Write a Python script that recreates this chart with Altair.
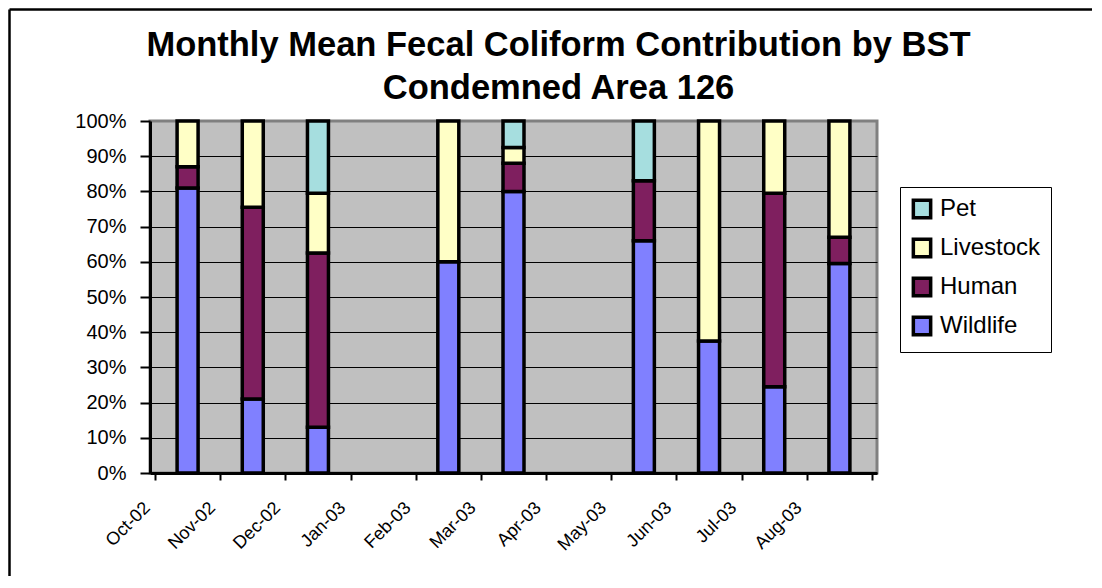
import json
import altair as alt
import pandas as pd

months = ["Oct-02", "Nov-02", "Dec-02", "Jan-03", "Feb-03", "Mar-03",
          "Apr-03", "May-03", "Jun-03", "Jul-03", "Aug-03"]
sources = ["Pet", "Livestock", "Human", "Wildlife"]
colors = ["#A6DEDF", "#FFFFC6", "#7F1F5F", "#8080FF"]

wildlife = [81, 21, 13, None, 60, 80, None, 66, 37.5, 24.5, 59.5]
human = [6, 54.5, 49.5, None, 0, 8, None, 17, 0, 55, 7.5]
livestock = [13, 24.5, 17, None, 40, 4.5, None, 0, 62.5, 20.5, 33]
pet = [0, 0, 20.5, None, 0, 7.5, None, 17, 0, 0, 0]

series = {"Wildlife": wildlife, "Human": human, "Livestock": livestock, "Pet": pet}
stack_order = {"Wildlife": 0, "Human": 1, "Livestock": 2, "Pet": 3}

rows = []
for i, m in enumerate(months):
    for s, vals in series.items():
        v = vals[i]
        if v is not None and v > 0:
            rows.append({"month": m, "pos": i, "source": s, "value": v,
                         "stack": stack_order[s]})
df = pd.DataFrame(rows)

label_expr = "datum.value < %d ? %s[datum.value] : ''" % (len(months), json.dumps(months))

bars = alt.Chart(df).transform_calculate(
    slot="datum.pos + 0.5"
).mark_bar(size=21, stroke="black", strokeWidth=3.5, orient="vertical").encode(
    x=alt.X("slot:Q",
            scale=alt.Scale(domain=[0, len(months)], nice=False, zero=False),
            axis=alt.Axis(values=list(range(len(months) + 1)), labelExpr=label_expr,
                          title=None, grid=False, labelAngle=-45, labelAlign="right",
                          labelBaseline="middle", labelFont="Liberation Sans",
                          labelFontSize=18, labelColor="black", labelPadding=25,
                          labelOffset=-8,
                          labelFlush=False, labelOverlap=False, labelBound=False,
                          domainColor="black", domainWidth=3, tickColor="black",
                          tickWidth=2, tickSize=7)),
    y=alt.Y("value:Q", stack="normalize",
            scale=alt.Scale(domain=[0, 1], nice=False),
            axis=alt.Axis(format="%", values=[i / 10 for i in range(11)], title=None,
                          labelFont="Liberation Sans", labelFontSize=20,
                          labelColor="black", labelPadding=14,
                          domainColor="black", domainWidth=3, tickColor="black",
                          tickWidth=2, tickSize=10, grid=True,
                          gridColor={"condition": {"test": "datum.value >= 0.99",
                                                   "value": "#808080"},
                                     "value": "black"},
                          gridWidth=1, gridOpacity=1)),
    color=alt.Color("source:N",
                    scale=alt.Scale(domain=sources, range=colors),
                    legend=alt.Legend(orient="none", legendX=750, legendY=66, title=None,
                                      symbolType="square", symbolSize=300,
                                      symbolStrokeColor="black", symbolStrokeWidth=3.5,
                                      symbolOpacity=1,
                                      labelFont="Liberation Sans", labelFontSize=24,
                                      labelColor="black", labelLimit=300,
                                      rowPadding=7, padding=10, labelOffset=6,
                                      strokeColor="black", fillColor="white")),
    order=alt.Order("stack:Q"),
)

frame_df = pd.DataFrame({"k": [0]})
top_rule = alt.Chart(frame_df).mark_rule(color="black", strokeWidth=2.5).encode(
    x=alt.value(-140.5), x2=alt.value(960), y=alt.value(-111.5))
left_rule = alt.Chart(frame_df).mark_rule(color="black", strokeWidth=2.5).encode(
    x=alt.value(-140.5), y=alt.value(-111.5), y2=alt.value(500))

chart = alt.layer(bars, top_rule, left_rule).properties(
    width=727, height=352,
    autosize=alt.AutoSizeParams(type="none"),
    padding={"left": 142, "top": 113, "right": 215, "bottom": 103},
    title=alt.TitleParams(
        text=["Monthly Mean Fecal Coliform Contribution by BST", "Condemned Area 126"],
        font="Liberation Sans", fontSize=34.5, fontWeight="bold", color="black",
        anchor="middle", frame="group", dx=45, offset=-124.75, lineHeight=43,
        baseline="alphabetic"),
).configure_view(
    fill="#C0C0C0", stroke="#808080", strokeWidth=3
)

chart.save("out.html", embed_options={"renderer": "svg", "actions": False})
